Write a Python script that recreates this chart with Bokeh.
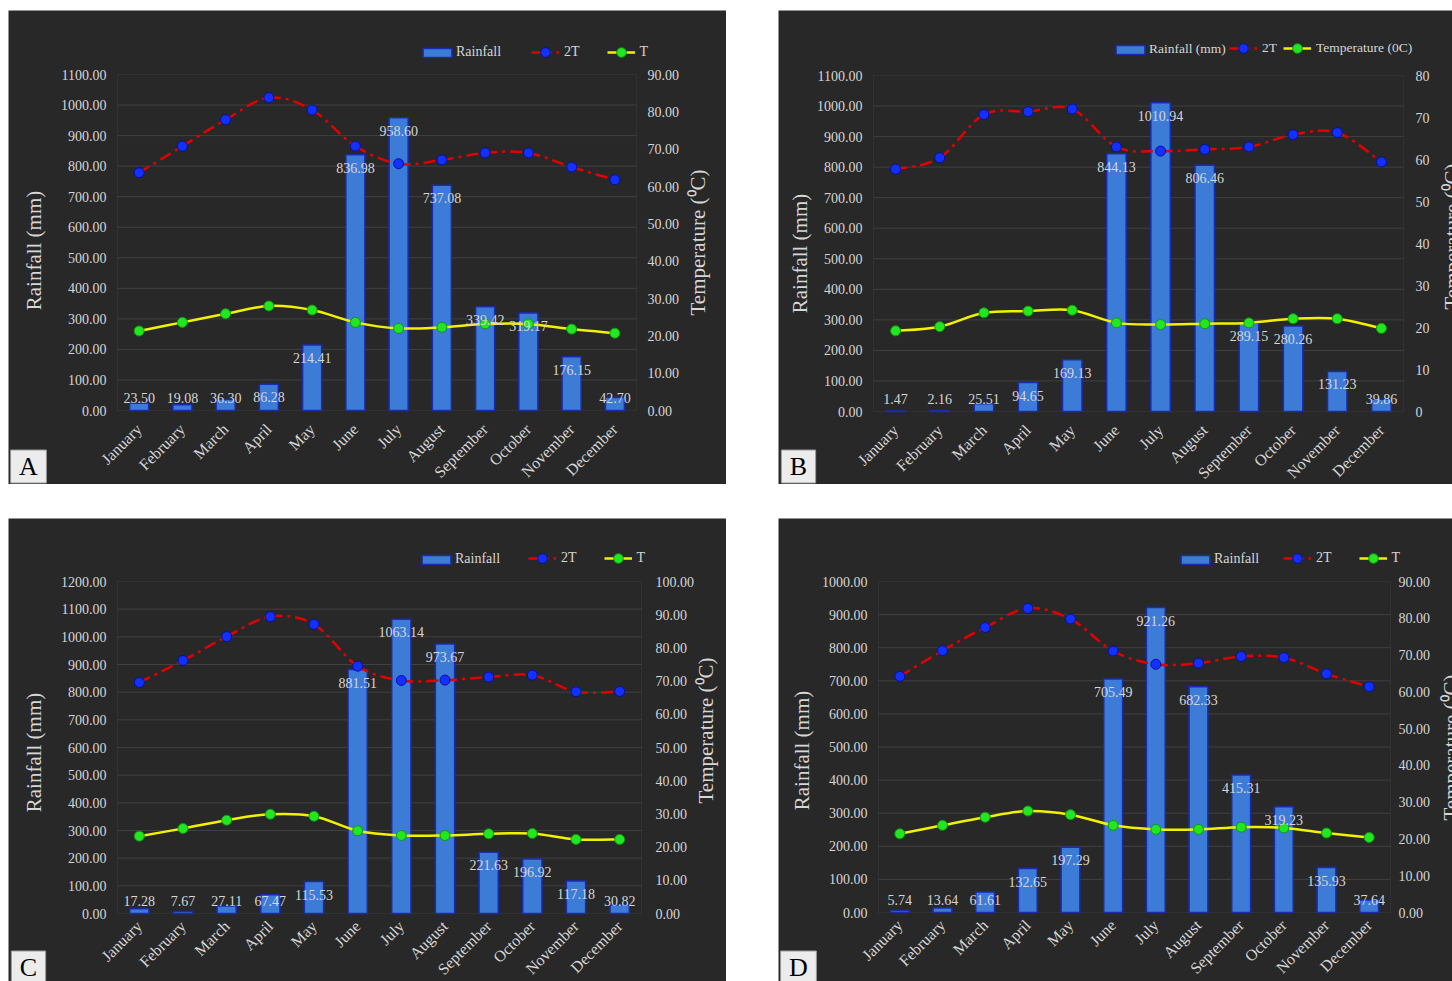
import math
from bokeh.plotting import figure
from bokeh.models import (Range1d, LinearAxis, FixedTicker, NumeralTickFormatter,
                          Legend, LegendItem, Label, ColumnDataSource, Spacer,
                          BoxAnnotation)
from bokeh.layouts import column, row
from bokeh.embed import file_html
from bokeh.resources import INLINE
from bokeh.core.properties import value

FONT = "Liberation Serif"
BG = "#282828"
TXT = "#d6d6d6"

months = ["January", "February", "March", "April", "May", "June", "July",
          "August", "September", "October", "November", "December"]

# Panel A
rain_A = [23.50, 19.08, 36.30, 86.28, 214.41, 836.98, 958.60, 737.08, 339.42, 319.17, 176.15, 42.70]
t2_A = [63.7, 70.8, 77.9, 83.8, 80.5, 70.8, 66.1, 67.1, 69.0, 69.0, 65.2, 61.8]
t_A = [21.3, 23.6, 25.9, 28.0, 26.9, 23.6, 22.0, 22.3, 23.2, 23.2, 21.8, 20.7]

# Panel B
rain_B = [1.47, 2.16, 25.51, 94.65, 169.13, 844.13, 1010.94, 806.46, 289.15, 280.26, 131.23, 39.86]
t2_B = [57.7, 60.4, 70.7, 71.4, 72.0, 63.0, 62.0, 62.4, 63.0, 65.9, 66.4, 59.4]
t_B = [19.2, 20.2, 23.5, 23.9, 24.1, 21.1, 20.7, 20.9, 21.1, 22.1, 22.1, 19.8]

# Panel C
rain_C = [17.28, 7.67, 27.11, 67.47, 115.53, 881.51, 1063.14, 973.67, 221.63, 196.92, 117.18, 30.82]
t2_C = [69.6, 76.2, 83.4, 89.4, 87.1, 74.5, 70.2, 70.3, 71.2, 71.8, 66.8, 66.9]
t_C = [23.3, 25.6, 28.1, 29.9, 29.3, 24.9, 23.5, 23.5, 24.0, 24.1, 22.3, 22.3]

# Panel D
rain_D = [5.74, 13.64, 61.61, 132.65, 197.29, 705.49, 921.26, 682.33, 415.31, 319.23, 135.93, 37.64]
t2_D = [64.2, 71.2, 77.5, 82.7, 79.8, 71.1, 67.5, 67.8, 69.6, 69.3, 64.9, 61.4]
t_D = [21.4, 23.7, 25.9, 27.6, 26.6, 23.7, 22.6, 22.6, 23.2, 23.0, 21.6, 20.4]


def smooth_source(xs, ys):
    n = len(xs)
    d = dict(x0=[], y0=[], x1=[], y1=[], cx0=[], cy0=[], cx1=[], cy1=[])
    for i in range(n - 1):
        a = max(i - 1, 0)
        b = min(i + 2, n - 1)
        d["x0"].append(xs[i]); d["y0"].append(ys[i])
        d["x1"].append(xs[i + 1]); d["y1"].append(ys[i + 1])
        d["cx0"].append(xs[i] + (xs[i + 1] - xs[a]) / 6.0)
        d["cy0"].append(ys[i] + (ys[i + 1] - ys[a]) / 6.0)
        d["cx1"].append(xs[i + 1] - (xs[b] - xs[i]) / 6.0)
        d["cy1"].append(ys[i + 1] - (ys[b] - ys[i]) / 6.0)
    return ColumnDataSource(d)


def style_axis(ax, std, size="14px"):
    ax.axis_line_color = None
    ax.major_tick_line_color = None
    ax.minor_tick_line_color = None
    ax.major_tick_out = 0
    ax.major_tick_in = 0
    ax.minor_tick_out = 0
    ax.major_label_text_color = TXT
    ax.major_label_text_font = FONT
    ax.major_label_text_font_size = size
    ax.major_label_standoff = std


def text_label(x, y, txt, angle=0.0, size="21px", color=TXT, **kw):
    return Label(x=x, y=y, x_units="screen", y_units="screen", text=txt, angle=angle,
                 text_align="center", text_baseline="middle", text_color=color,
                 text_font=FONT, text_font_size=size, **kw)


def legend_box(items, loc, gw, gh, sp, standoff, fsize):
    return Legend(items=items, orientation="horizontal", location=loc,
                  glyph_width=gw, glyph_height=gh, label_height=gh, label_width=0,
                  padding=0, margin=0, spacing=sp, label_standoff=standoff,
                  background_fill_alpha=0, border_line_alpha=0,
                  label_text_color=TXT, label_text_font=FONT,
                  label_text_font_size=fsize)


def make_panel(letter, rain, t2, t, rain_max, t_max, t_fmt, labels, W, H, box,
               lstd, rstd, xstd, leg1_pos, leg2_pos, legend_sp, leg_font, ltitle_pos,
               rtitle_pos, letter_pos):
    L, R, T, B = box
    n = len(months)
    xs = [i + 1 for i in range(n)]
    pw = W - L - R
    ph = H - T - B
    ppx = pw / n
    ry = ph / rain_max
    ty = ph / t_max
    p = figure(width=W, height=H, output_backend="svg", toolbar_location=None, tools="",
               x_range=Range1d(0.5 - L / ppx, n + 0.5 + R / ppx),
               y_range=Range1d(-B / ry, rain_max + T / ry),
               x_axis_location=None, y_axis_location=None, min_border=0,
               background_fill_color=BG, border_fill_color=BG, outline_line_color=None)
    p.extra_y_ranges = {"t": Range1d(-B / ty, t_max + T / ty)}
    p.grid.visible = False

    # plot-area frame and gridlines
    p.add_layout(BoxAnnotation(left=0.5, right=n + 0.5, bottom=0, top=rain_max,
                               fill_color=None, line_color="#4a4a4a", line_width=1,
                               level="underlay"))
    gy = list(range(100, rain_max, 100))
    p.segment(x0=0.5, x1=n + 0.5, y0=gy, y1=gy, line_color="#414141", line_width=1,
              level="underlay")

    # axes
    yl = LinearAxis(fixed_location=0.5, bounds=(0, rain_max),
                    ticker=FixedTicker(ticks=list(range(0, rain_max + 1, 100))),
                    formatter=NumeralTickFormatter(format="0.00"))
    style_axis(yl, lstd)
    p.add_layout(yl, "left")

    yr = LinearAxis(y_range_name="t", fixed_location=n + 0.5, bounds=(0, t_max),
                    ticker=FixedTicker(ticks=list(range(0, t_max + 1, 10))),
                    formatter=NumeralTickFormatter(format=t_fmt))
    style_axis(yr, rstd)
    p.add_layout(yr, "right")

    xa = LinearAxis(fixed_location=0, bounds=(0.5, n + 0.5),
                    ticker=FixedTicker(ticks=xs),
                    major_label_overrides={x: m for x, m in zip(xs, months)},
                    major_label_orientation=math.pi / 4)
    style_axis(xa, xstd, "16px")
    p.add_layout(xa, "below")

    # bars
    bars = p.vbar(x=xs, top=rain, bottom=0, width=0.44, fill_color="#3d7cd6",
                  line_color="#1b2bb0", line_width=1.5)

    # lines
    r2 = p.bezier(x0="x0", y0="y0", x1="x1", y1="y1", cx0="cx0", cy0="cy0",
                  cx1="cx1", cy1="cy1", source=smooth_source(xs, t2), y_range_name="t",
                  line_color="#e50000", line_width=2.5, line_dash="12 5 3 5")
    s2 = p.scatter(xs, t2, y_range_name="t", size=10, fill_color="#1430ff",
                   line_color="#0010a0", line_width=1)
    r1 = p.bezier(x0="x0", y0="y0", x1="x1", y1="y1", cx0="cx0", cy0="cy0",
                  cx1="cx1", cy1="cy1", source=smooth_source(xs, t), y_range_name="t",
                  line_color="#f2f200", line_width=2.5)
    s1 = p.scatter(xs, t, y_range_name="t", size=10, fill_color="#22e622",
                   line_color="#0b9a0b", line_width=1)

    # data labels
    off = 13.0 / ry
    lab_src = ColumnDataSource(dict(
        x=xs, y=[max(v - off, off) for v in rain], txt=["%.2f" % v for v in rain]))
    p.text(x="x", y="y", text="txt", source=lab_src, text_align="center",
           text_baseline="middle", text_color=TXT, text_font=value(FONT),
           text_font_size="14px")

    # legends
    p.add_layout(legend_box([LegendItem(label=labels[0], renderers=[bars])],
                            leg1_pos, 36, 11, legend_sp, 1, leg_font), "center")
    p.add_layout(legend_box([LegendItem(label=labels[1], renderers=[r2, s2]),
                             LegendItem(label=labels[2], renderers=[r1, s1])],
                            leg2_pos, 28, 24, legend_sp, 5, leg_font), "center")

    # axis titles
    p.add_layout(text_label(ltitle_pos[0], ltitle_pos[1], "Rainfall (mm)", math.pi / 2))
    p.add_layout(text_label(rtitle_pos[0], rtitle_pos[1], "Temperature (\u2070C)", math.pi / 2))

    # panel letter
    p.add_layout(text_label(letter_pos[0], letter_pos[1], "\u00a0" + letter + "\u00a0",
                            0.0, "26px", "#000000", background_fill_color="#ececec",
                            border_line_color="#9a9a9a", border_line_width=1, padding=2))
    return p


pA = make_panel("A", rain_A, t2_A, t_A, 1100, 90, "0.00", ["Rainfall", "2T", "T"],
                718, 474, (109, 90, 64, 74), 11, 11, 16, (411, 424), (523, 420), 27,
                "14px", (25, 234), (689, 242), (20, 18))
pB = make_panel("B", rain_B, t2_B, t_B, 1100, 80, "0",
                ["Rainfall (mm)", "2T", "Temperature (0C)"],
                674, 474, (95, 49, 65, 73), 11, 12, 16, (334, 427), (451, 424), 6,
                "13.5px", (21, 231), (673, 248), (20, 18))
pC = make_panel("C", rain_C, t2_C, t_C, 1200, 100, "0.00", ["Rainfall", "2T", "T"],
                718, 463, (109, 85, 63, 68), 11, 14, 10, (410, 414), (520, 411), 27,
                "14px", (25, 229), (697, 251), (20, 14))
pD = make_panel("D", rain_D, t2_D, t_D, 1000, 90, "0.00", ["Rainfall", "2T", "T"],
                674, 463, (100, 62, 63, 69), 11, 8, 10, (399, 414), (505, 411), 27,
                "14px", (23, 231), (672, 234), (20, 14))

layout = column(
    Spacer(height=10),
    row(Spacer(width=8), pA, Spacer(width=52), pB),
    Spacer(height=34),
    row(Spacer(width=8), pC, Spacer(width=52), pD),
)

open("out.html", "w").write(file_html(layout, INLINE))
